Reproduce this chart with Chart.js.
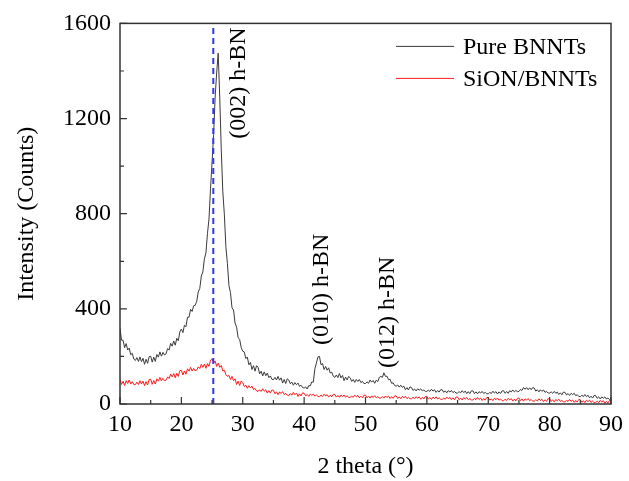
<!DOCTYPE html>
<html>
<head>
<meta charset="utf-8">
<script src="https://cdn.jsdelivr.net/npm/chart.js@4.4.1/dist/chart.umd.min.js"></script>
<style>
  html, body { margin: 0; padding: 0; background: #fff; }
  #wrap { width: 629px; height: 481px; }
</style>
</head>
<body>
<div id="wrap"><canvas id="chartXRD" width="629" height="481"></canvas></div>
<script>
// XRD patterns, read every 0.25 deg from 10 to 90 (2 theta), one row = 2.5 deg
const pureBNNTs = [
  318, 268, 268, 237, 254, 227, 235, 207, 213, 189,
  183, 195, 179, 198, 178, 192, 167, 188, 171, 199,
  201, 176, 197, 179, 208, 197, 219, 201, 217, 206,
  211, 233, 227, 255, 243, 265, 247, 276, 266, 303,
  315, 300, 331, 325, 365, 365, 398, 389, 413, 415,
  432, 471, 486, 538, 555, 610, 635, 716, 778, 905,
  1018, 1132, 1290, 1392, 1475, 1290, 1068, 894, 798, 662,
  590, 498, 468, 405, 395, 340, 323, 279, 271, 237,
  222, 219, 191, 197, 165, 175, 145, 161, 138, 161,
  154, 127, 138, 118, 135, 119, 130, 111, 118, 104,
  102, 112, 101, 116, 100, 110, 88, 103, 86, 106,
  101, 85, 92, 79, 90, 81, 88, 74, 79, 69,
  67, 72, 63, 77, 76, 93, 92, 148, 172, 198,
  200, 165, 170, 145, 158, 142, 152, 130, 134, 117,
  112, 122, 111, 128, 110, 120, 98, 113, 101, 116,
  110, 95, 103, 91, 103, 95, 103, 90, 95, 86,
  86, 93, 87, 101, 92, 99, 87, 100, 94, 112,
  116, 112, 131, 116, 117, 102, 104, 87, 89, 78,
  75, 80, 71, 79, 70, 75, 60, 69, 59, 72,
  69, 57, 63, 55, 64, 58, 64, 55, 59, 53,
  53, 58, 53, 62, 54, 60, 49, 57, 50, 60,
  60, 49, 55, 47, 57, 50, 57, 48, 53, 46,
  46, 52, 47, 56, 48, 54, 44, 52, 44, 55,
  55, 44, 51, 43, 52, 46, 53, 44, 49, 43,
  43, 49, 44, 54, 46, 52, 42, 51, 44, 55,
  56, 45, 53, 45, 56, 51, 59, 51, 57, 52,
  53, 61, 57, 69, 62, 69, 60, 68, 60, 69,
  67, 54, 60, 51, 60, 53, 59, 49, 53, 46,
  46, 51, 45, 53, 45, 50, 40, 47, 39, 50,
  49, 38, 44, 36, 45, 39, 45, 35, 39, 32,
  31, 37, 31, 40, 31, 37, 26, 33, 25, 36,
  35, 24, 30, 21, 30, 24, 30, 21, 25, 19,
  23
];
const sionBNNTs = [
  105, 82, 96, 78, 98, 86, 101, 84, 94, 82,
  81, 92, 82, 98, 84, 96, 77, 94, 80, 103,
  104, 83, 99, 84, 106, 96, 112, 97, 108, 98,
  100, 114, 107, 126, 114, 128, 110, 129, 116, 140,
  142, 122, 139, 125, 148, 138, 154, 139, 150, 140,
  142, 156, 149, 167, 154, 168, 150, 170, 158, 184,
  190, 172, 181, 158, 172, 154, 162, 139, 142, 124,
  116, 120, 103, 116, 98, 106, 82, 96, 78, 97,
  90, 73, 79, 66, 77, 68, 75, 61, 65, 55,
  53, 60, 53, 64, 54, 60, 46, 56, 46, 59,
  58, 43, 51, 39, 51, 44, 52, 40, 45, 37,
  36, 44, 37, 49, 39, 46, 32, 43, 34, 47,
  45, 34, 40, 32, 42, 36, 42, 33, 38, 32,
  31, 37, 32, 41, 34, 39, 29, 37, 30, 41,
  40, 29, 36, 28, 38, 31, 38, 29, 34, 28,
  28, 33, 28, 37, 30, 36, 26, 33, 26, 37,
  37, 26, 33, 25, 34, 28, 35, 26, 31, 25,
  25, 31, 25, 34, 27, 33, 23, 31, 24, 34,
  34, 23, 30, 22, 32, 26, 32, 23, 28, 22,
  22, 28, 23, 31, 24, 30, 20, 28, 21, 32,
  32, 21, 27, 19, 29, 23, 30, 21, 26, 20,
  19, 25, 20, 29, 22, 28, 18, 26, 18, 29,
  29, 18, 25, 17, 27, 21, 27, 18, 23, 17,
  17, 23, 18, 27, 19, 25, 15, 23, 16, 27,
  27, 16, 22, 14, 24, 18, 25, 16, 21, 14,
  14, 20, 15, 24, 17, 23, 12, 20, 13, 24,
  25, 14, 21, 12, 22, 16, 23, 14, 19, 12,
  12, 18, 13, 22, 15, 20, 10, 18, 11, 22,
  22, 11, 17, 9, 19, 13, 20, 11, 15, 9,
  9, 15, 10, 19, 11, 17, 7, 15, 8, 19,
  18, 7, 14, 6, 16, 10, 16, 7, 12, 6,
  6, 12, 6, 15, 8, 14, 3, 11, 4, 15,
  10
];
const twoTheta = pureBNNTs.map((_, i) => 10 + i * 0.25);

const seriesNames = ["Pure BNNTs", "SiON/BNNTs"];
const markerTheta = 25.2;
const peakLabels = ["(002) h-BN", "(010) h-BN", "(012) h-BN"];
const peakLabelX = [29.4, 42.8, 53.6];
const peakLabelY = [1349, 482, 385];
const xTicks = [10, 20, 30, 40, 50, 60, 70, 80, 90];
const yTicks = [0, 400, 800, 1200, 1600];

const blackColor = "#3a3a3a";
const redColor = "#ff1a1a";
const blueColor = "#3333ff";
const serif = "'Liberation Serif', 'Times New Roman', serif";

const toPoints = (ys) => ys.map((v, i) => ({ x: twoTheta[i], y: v }));

const decor = {
  id: "decor",
  afterDatasetsDraw(chart) {
    const { ctx, chartArea: a, scales: { x, y } } = chart;
    ctx.save();
    ctx.strokeStyle = "#333";
    ctx.lineWidth = 1.5;
    ctx.strokeRect(a.left, a.top, a.right - a.left, a.bottom - a.top);

    // inward ticks, minor every half step
    ctx.lineWidth = 1.2;
    ctx.beginPath();
    for (let v = 10; v <= 90; v += 5) {
      const px = x.getPixelForValue(v);
      const len = v % 10 === 0 ? 7 : 4;
      ctx.moveTo(px, a.bottom);
      ctx.lineTo(px, a.bottom - len);
    }
    for (let v = 0; v <= 1600; v += 200) {
      const py = y.getPixelForValue(v);
      const len = v % 400 === 0 ? 7 : 4;
      ctx.moveTo(a.left, py);
      ctx.lineTo(a.left + len, py);
    }
    ctx.stroke();

    // peak labels
    ctx.fillStyle = "#000";
    ctx.font = "24px " + serif;
    ctx.textAlign = "center";
    ctx.textBaseline = "middle";
    peakLabels.forEach((t, i) => {
      ctx.save();
      ctx.translate(x.getPixelForValue(peakLabelX[i]), y.getPixelForValue(peakLabelY[i]));
      ctx.rotate(-Math.PI / 2);
      ctx.fillText(t, 0, 0);
      ctx.restore();
    });

    // legend
    const colors = [blackColor, redColor];
    ctx.textAlign = "left";
    ctx.lineWidth = 1;
    seriesNames.forEach((name, i) => {
      const ly = a.top + 23 + i * 32;
      ctx.strokeStyle = colors[i];
      ctx.beginPath();
      ctx.moveTo(a.right - 215, ly);
      ctx.lineTo(a.right - 157, ly);
      ctx.stroke();
      ctx.fillText(name, a.right - 148, ly + 1);
    });
    ctx.restore();
  },
};

new Chart(document.getElementById("chartXRD"), {
  type: "line",
  data: {
    datasets: [
      {
        label: "marker",
        data: [{ x: markerTheta, y: 0 }, { x: markerTheta, y: 1600 }],
        borderColor: blueColor,
        borderWidth: 2,
        borderDash: [6, 4],
        pointRadius: 0,
        order: 0,
      },
      {
        label: seriesNames[1],
        data: toPoints(sionBNNTs),
        borderColor: redColor,
        borderWidth: 1,
        pointRadius: 0,
        order: 1,
      },
      {
        label: seriesNames[0],
        data: toPoints(pureBNNTs),
        borderColor: blackColor,
        borderWidth: 1,
        pointRadius: 0,
        order: 2,
      },
    ],
  },
  options: {
    responsive: false,
    animation: false,
    layout: { padding: { top: 22, right: 14, left: 0, bottom: 0 } },
    plugins: { legend: { display: false }, tooltip: { enabled: false } },
    scales: {
      x: {
        type: "linear",
        min: 10,
        max: 90,
        afterFit: (s) => { s.height = 77; },
        afterBuildTicks: (s) => { s.ticks = xTicks.map((v) => ({ value: v })); },
        grid: { display: false, drawTicks: false },
        border: { display: false },
        ticks: { color: "#000", padding: 6, font: { family: serif, size: 24 } },
        title: {
          display: true,
          text: "2 theta (°)",
          color: "#000",
          padding: { top: 0, bottom: 0 },
          font: { family: serif, size: 24 },
        },
      },
      y: {
        min: 0,
        max: 1600,
        afterFit: (s) => { s.width = 120; },
        afterBuildTicks: (s) => { s.ticks = yTicks.map((v) => ({ value: v })); },
        grid: { display: false, drawTicks: false },
        border: { display: false },
        ticks: {
          color: "#000",
          padding: 9,
          font: { family: serif, size: 24 },
          callback: (v) => String(v),
        },
        title: {
          display: true,
          text: "Intensity (Counts)",
          color: "#000",
          padding: { top: 12, bottom: 0 },
          font: { family: serif, size: 24 },
        },
      },
    },
  },
  plugins: [decor],
});
</script>
</body>
</html>
